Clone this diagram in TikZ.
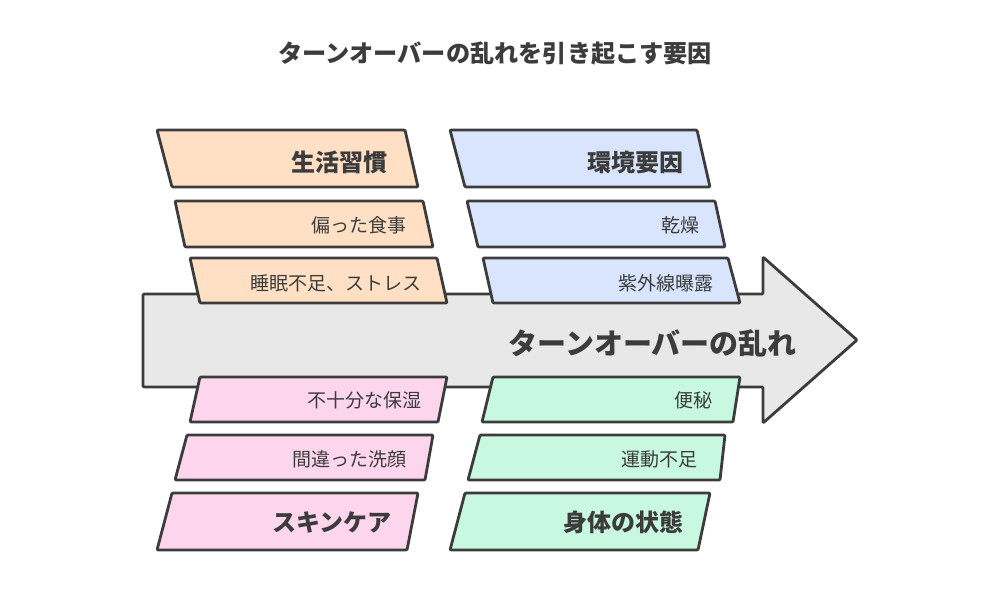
\documentclass[tikz,border=0pt]{standalone}
\usepackage{fontspec}
\setmainfont{Noto Sans CJK JP}
\definecolor{stroke}{HTML}{3C3C3C}
\definecolor{txt}{HTML}{3C3C3C}
\definecolor{cOrange}{HTML}{FFE0C4}
\definecolor{cBlue}{HTML}{D9E5FC}
\definecolor{cPink}{HTML}{FDD6EE}
\definecolor{cGreen}{HTML}{C8F8E0}
\definecolor{cGray}{HTML}{E8E8E8}
\tikzset{
  box/.style={draw=stroke, line width=2.8pt, line join=round, rounded corners=1pt},
  cat/.style={anchor=east, inner sep=0pt, text=txt, font=\fontsize{24}{28}\selectfont\bfseries},
  item/.style={anchor=east, inner sep=0pt, text=txt, font=\fontsize{19}{22}\selectfont},
  ttl/.style={inner sep=0pt, text=txt, font=\fontsize{24.2}{28}\selectfont\bfseries},
  big/.style={anchor=east, inner sep=0pt, text=txt, font=\fontsize{29}{32}\selectfont\bfseries}
}
\begin{document}
\begin{tikzpicture}[x=1pt,y=-1pt]
\useasboundingbox[fill=white] (0,0) rectangle (1000,600);
% title
\node[ttl] (title) at (495,53) {ターンオーバーの乱れを引き起こす要因};
% main arrow
\draw[box, fill=cGray] (143,294) -- (763,294) -- (763,257) -- (857,340) -- (763,423) -- (763,387) -- (143,387) -- cycle;
\node[big] (main) at (797,343) {ターンオーバーの乱れ};
% orange column (top-left)
\draw[box, fill=cOrange] (157,130) -- (405,130) -- (418,187) -- (172,187) -- cycle;
\draw[box, fill=cOrange] (175,201) -- (423,201) -- (433,247) -- (185,247) -- cycle;
\draw[box, fill=cOrange] (190,258) -- (437,258) -- (447,303) -- (200,303) -- cycle;
\node[cat]  (o1) at (388,162) {生活習慣};
\node[item] (o2) at (407,225) {偏った食事};
\node[item] (o3) at (422,283) {睡眠不足、ストレス};
% blue column (top-right)
\draw[box, fill=cBlue] (450,130) -- (697,130) -- (710,187) -- (465,187) -- cycle;
\draw[box, fill=cBlue] (467,201) -- (715,201) -- (725,247) -- (478,247) -- cycle;
\draw[box, fill=cBlue] (483,258) -- (728,258) -- (740,303) -- (493,303) -- cycle;
\node[cat]  (b1) at (684,162) {環境要因};
\node[item] (b2) at (700,225) {乾燥};
\node[item] (b3) at (714,283) {紫外線曝露};
% pink column (bottom-left)
\draw[box, fill=cPink] (200,377) -- (447,377) -- (438,422) -- (190,422) -- cycle;
\draw[box, fill=cPink] (187,435) -- (433,435) -- (425,480) -- (175,480) -- cycle;
\draw[box, fill=cPink] (172,493) -- (418,493) -- (407,550) -- (157,550) -- cycle;
\node[item] (p1) at (422,400) {不十分な保湿};
\node[item] (p2) at (407,459) {間違った洗顔};
\node[cat]  (p3) at (392,522) {スキンケア};
% green column (bottom-right)
\draw[box, fill=cGreen] (493,377) -- (740,377) -- (733,422) -- (482,422) -- cycle;
\draw[box, fill=cGreen] (480,435) -- (725,435) -- (720,480) -- (468,480) -- cycle;
\draw[box, fill=cGreen] (465,493) -- (710,493) -- (698,550) -- (450,550) -- cycle;
\node[item] (g1) at (713,400) {便秘};
\node[item] (g2) at (698,459) {運動不足};
\node[cat]  (g3) at (684,522) {身体の状態};
\end{tikzpicture}
\end{document}
